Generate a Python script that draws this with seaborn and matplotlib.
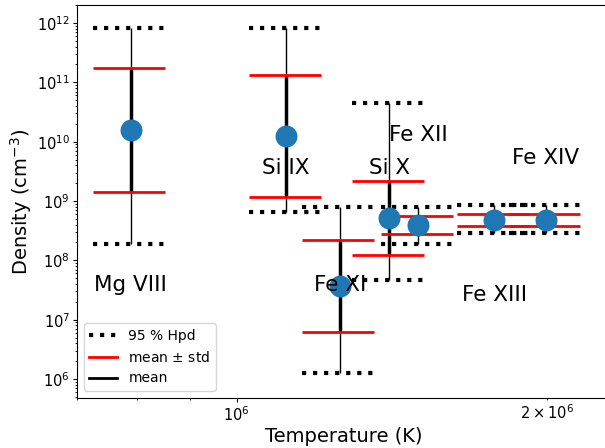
import numpy as np
import pandas as pd
import matplotlib
matplotlib.use("Agg")
import matplotlib.pyplot as plt
from matplotlib.lines import Line2D
import seaborn as sns

# Ion labels and their formation temperatures (log10 K)
ions = ["Mg VIII", "Si IX", "Fe XI", "Si X", "Fe XII", "Fe XIII", "Fe XIV"]
log_temp = [5.897, 6.048, 6.10, 6.148, 6.176, 6.25, 6.30]

# Posterior density summary (log10 cm^-3): mean and standard deviation
mean_log_dens = [10.194, 10.093, 7.562, 8.714, 8.595, 8.675, 8.675]
std_log_dens = [1.048, 1.026, 0.775, 0.624, 0.152, 0.099, 0.099]

# 95 % highest posterior density interval (cm^-3)
hpd_low = [1.86e8, 6.4e8, 1.25e6, 4.66e7, 1.86e8, 2.93e8, 2.93e8]
hpd_high = [8.3e11, 8.3e11, 7.8e8, 4.4e10, 8.0e8, 8.55e8, 8.55e8]

# Vertical placement of ion names (log10 cm^-3)
label_log_dens = [7.58, 9.56, 7.58, 9.56, 10.11, 7.42, 9.72]

df = pd.DataFrame({
    "ion": ions,
    "T": 10 ** np.array(log_temp),
    "mean": 10 ** np.array(mean_log_dens),
    "lo_std": 10 ** (np.array(mean_log_dens) - np.array(std_log_dens)),
    "hi_std": 10 ** (np.array(mean_log_dens) + np.array(std_log_dens)),
    "hpd_lo": hpd_low,
    "hpd_hi": hpd_high,
    "label_y": 10 ** np.array(label_log_dens),
})

plt.rcParams["font.family"] = ["DejaVu Sans"]
fig = plt.figure(figsize=(6.05, 4.48), dpi=100)
ax = fig.add_axes([77 / 605, 1 - 398 / 448, 1.01 - 77 / 605, (398 - 5) / 448])

ax.set_xscale("log")
ax.set_yscale("log")

xmin = df["T"] * 0.92
xmax = df["T"] * 1.08

# HPD range: thin vertical line with dotted caps
ax.vlines(df["T"], df["hpd_lo"], df["hpd_hi"], color="black", lw=1, zorder=2)
ax.hlines(df["hpd_lo"], xmin, xmax, color="black", lw=3, linestyles=":", zorder=2)
ax.hlines(df["hpd_hi"], xmin, xmax, color="black", lw=3, linestyles=":", zorder=2)

# mean +/- std: thick vertical line with red caps
ax.vlines(df["T"], df["lo_std"], df["hi_std"], color="black", lw=2.5, zorder=2)
ax.hlines(df["lo_std"], xmin, xmax, color="red", lw=2, zorder=2)
ax.hlines(df["hi_std"], xmin, xmax, color="red", lw=2, zorder=2)

sns.scatterplot(data=df, x="T", y="mean", s=250, color="#1f77b4",
                linewidth=0, ax=ax, zorder=3, legend=False)

for _, row in df.iterrows():
    ax.text(row["T"], row["label_y"], row["ion"], ha="center", va="center",
            fontsize=15.5, zorder=4)

ax.set_xlim(7.0e5, 10 ** (6 + 374 / 1030))
ax.set_ylim(10 ** 5.68, 10 ** 12.303)

ax.set_xlabel("Temperature (K)", fontsize=14, labelpad=2)
ax.set_ylabel("Density (cm$^{-3}$)", fontsize=14, labelpad=2)
ax.tick_params(which="major", length=2.6, labelsize=10.5, pad=2.5)
ax.tick_params(which="minor", length=1.5, labelsize=10.5, pad=2.5)

handles = [
    Line2D([], [], color="black", lw=3, ls=":"),
    Line2D([], [], color="red", lw=2),
    Line2D([], [], color="black", lw=2),
]
ax.legend(handles, ["95 % Hpd", "mean $\\pm$ std", "mean"], loc="lower left",
          fontsize=10)

fig.savefig("out.png", dpi=100)
